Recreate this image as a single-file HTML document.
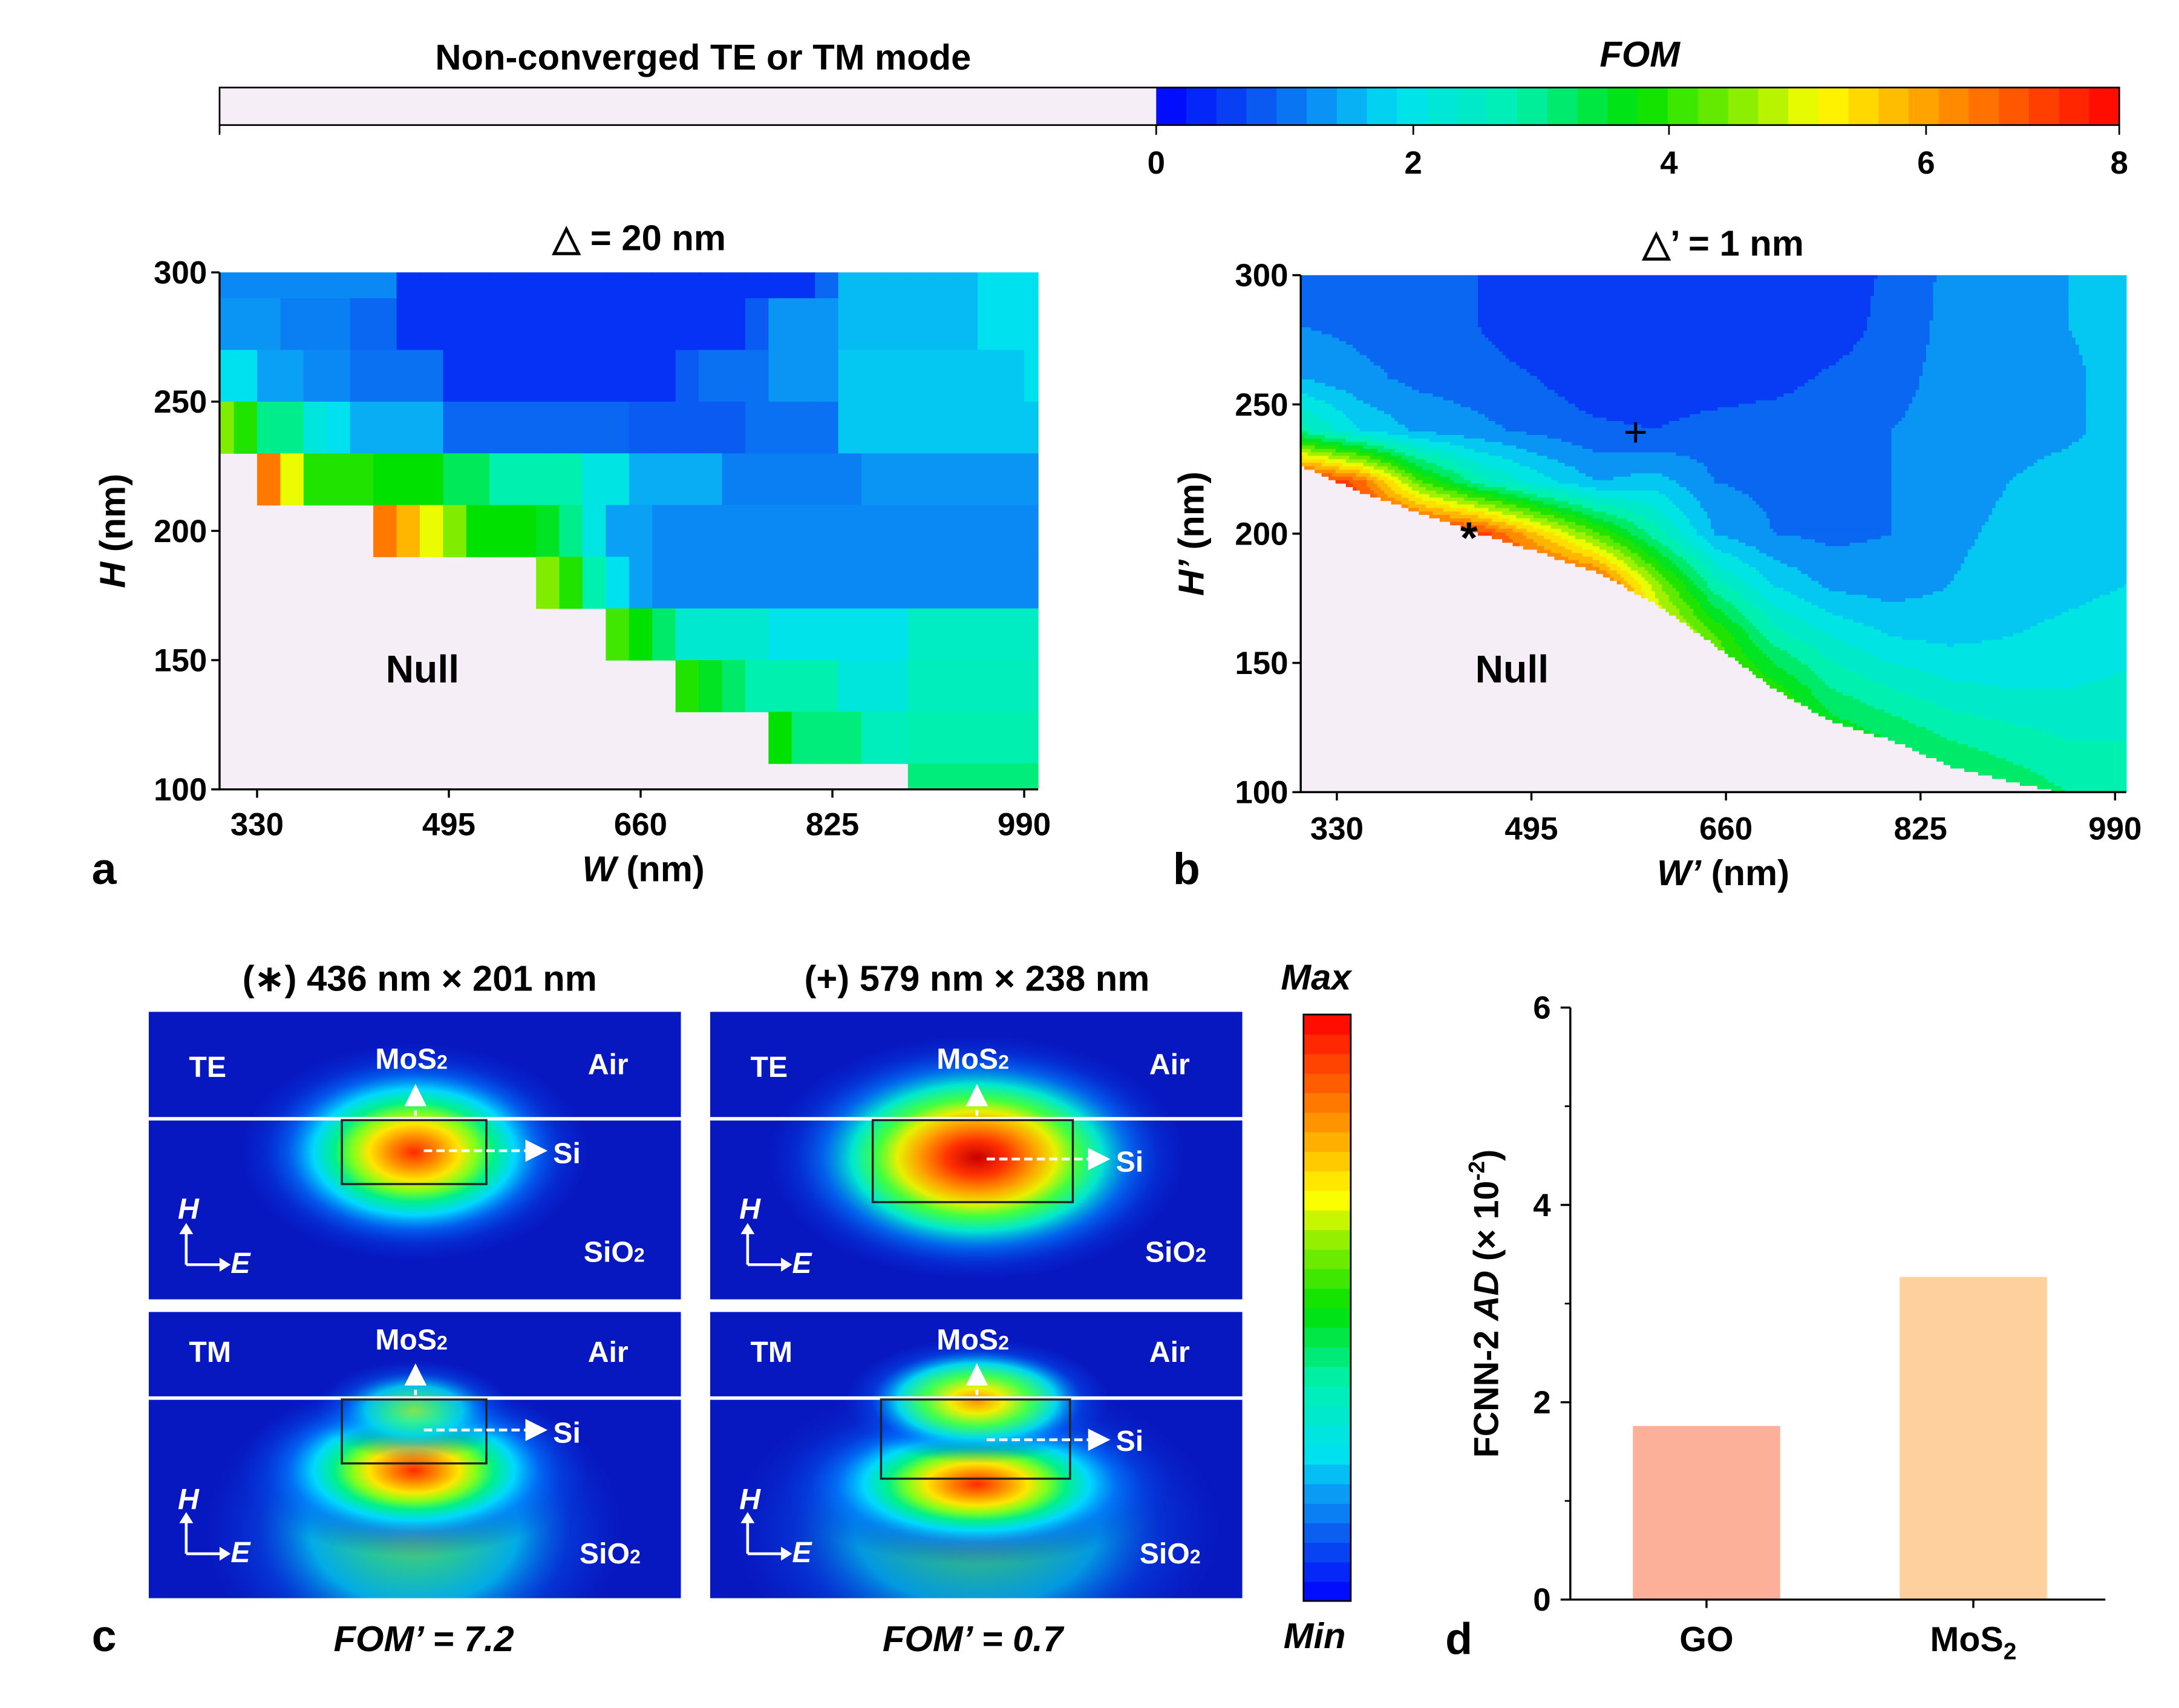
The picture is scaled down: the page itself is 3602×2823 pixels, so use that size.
<!DOCTYPE html>
<html><head><meta charset="utf-8">
<style>
html,body{margin:0;padding:0;background:#fff;}
svg{display:block;font-family:"Liberation Sans",Arial,sans-serif;font-weight:bold;}
</style></head>
<body>
<svg id="fig" width="3602" height="2823" viewBox="0 0 1568 1229" preserveAspectRatio="none" xmlns="http://www.w3.org/2000/svg">
<defs>
<radialGradient id="gStrong"><stop offset="0" stop-color="#ff2a00"/><stop offset="0.14" stop-color="#ff8a00"/><stop offset="0.26" stop-color="#ffe600"/><stop offset="0.36" stop-color="#7dff1e"/><stop offset="0.46" stop-color="#00f08a"/><stop offset="0.58" stop-color="#00d8ff"/><stop offset="0.72" stop-color="#0078ff" stop-opacity="0.7"/><stop offset="0.86" stop-color="#0050f0" stop-opacity="0.3"/><stop offset="1" stop-color="#0040f0" stop-opacity="0"/></radialGradient>
<radialGradient id="gDeep"><stop offset="0" stop-color="#c80000"/><stop offset="0.14" stop-color="#ff3000"/><stop offset="0.28" stop-color="#ffa000"/><stop offset="0.38" stop-color="#e8f000"/><stop offset="0.48" stop-color="#40ff40"/><stop offset="0.6" stop-color="#00e8d0"/><stop offset="0.74" stop-color="#0080ff" stop-opacity="0.7"/><stop offset="0.88" stop-color="#0050f0" stop-opacity="0.3"/><stop offset="1" stop-color="#0040f0" stop-opacity="0"/></radialGradient>
<radialGradient id="gWeak"><stop offset="0" stop-color="#90f040"/><stop offset="0.25" stop-color="#30f090"/><stop offset="0.5" stop-color="#00d0f0"/><stop offset="0.75" stop-color="#0070ff" stop-opacity="0.4"/><stop offset="1" stop-color="#0050f0" stop-opacity="0"/></radialGradient>
<radialGradient id="gMid"><stop offset="0" stop-color="#ff9000"/><stop offset="0.2" stop-color="#f0f000"/><stop offset="0.4" stop-color="#40ff50"/><stop offset="0.6" stop-color="#00d8f0"/><stop offset="0.8" stop-color="#0060ff" stop-opacity="0.4"/><stop offset="1" stop-color="#0050f0" stop-opacity="0"/></radialGradient>
<marker id="arr" markerWidth="8" markerHeight="8" refX="6" refY="4" orient="auto"><path d="M0,0 L8,4 L0,8 Z" fill="#fff"/></marker>
<clipPath id="cTE1"><rect x="107" y="728" width="383" height="207"/></clipPath>
<clipPath id="cTE2"><rect x="511" y="728" width="383" height="207"/></clipPath>
<clipPath id="cTM1"><rect x="107" y="944" width="383" height="206"/></clipPath>
<clipPath id="cTM2"><rect x="511" y="944" width="383" height="206"/></clipPath>
</defs>

<g id="topbar">
<rect x="158" y="63" width="674" height="27" fill="#f6eef6"/>
</g>
<text x="506" y="50" font-size="26" text-anchor="middle">Non-converged TE or TM mode</text>
<text x="1180" y="48" font-size="26" font-style="italic" text-anchor="middle">FOM</text>

<g id="panelA"></g>
<text x="460" y="180" font-size="26" text-anchor="middle">△ = 20 nm</text>
<text x="304" y="491" font-size="28" text-anchor="middle">Null</text>
<text transform="translate(90,382) rotate(-90)" font-size="26" text-anchor="middle"><tspan font-style="italic">H</tspan> (nm)</text>
<text x="463" y="634" font-size="26" text-anchor="middle"><tspan font-style="italic">W</tspan> (nm)</text>
<text x="66" y="636" font-size="32">a</text>

<g id="panelB"></g>
<text x="1240" y="184" font-size="26" text-anchor="middle">△’ = 1 nm</text>
<text x="1088" y="491" font-size="28" text-anchor="middle">Null</text>
<text x="1057" y="398" font-size="32" text-anchor="middle">*</text>
<text x="1177" y="321" font-size="30" text-anchor="middle" font-weight="normal">+</text>
<text transform="translate(866,384) rotate(-90)" font-size="26" text-anchor="middle"><tspan font-style="italic">H’</tspan> (nm)</text>
<text x="1240" y="637" font-size="26" text-anchor="middle"><tspan font-style="italic">W’</tspan> (nm)</text>
<text x="844" y="636" font-size="32">b</text>

<g>
<text x="302" y="713" font-size="26" text-anchor="middle">(∗) 436 nm × 201 nm</text>
<text x="703" y="713" font-size="26" text-anchor="middle">(+) 579 nm × 238 nm</text>

<g clip-path="url(#cTE1)">
<rect x="107" y="728" width="383" height="207" fill="#0818c0"/>
<ellipse cx="298" cy="829" rx="125" ry="78" fill="url(#gStrong)"/>
<line x1="107" y1="805" x2="490" y2="805" stroke="#fff" stroke-width="2.5"/>
<rect x="246" y="806" width="104" height="46" fill="none" stroke="#222" stroke-width="1.5"/>
</g>
<g clip-path="url(#cTE2)">
<rect x="511" y="728" width="383" height="207" fill="#0818c0"/>
<ellipse cx="703" cy="833" rx="150" ry="88" fill="url(#gDeep)"/>
<line x1="511" y1="805" x2="894" y2="805" stroke="#fff" stroke-width="2.5"/>
<rect x="628" y="806" width="144" height="59" fill="none" stroke="#222" stroke-width="1.5"/>
</g>
<g clip-path="url(#cTM1)">
<rect x="107" y="944" width="383" height="206" fill="#0818c0"/>
<ellipse cx="298" cy="1100" rx="150" ry="110" fill="url(#gWeak)" opacity="0.8"/>
<ellipse cx="298" cy="1058" rx="125" ry="62" fill="url(#gStrong)"/>
<ellipse cx="298" cy="1015" rx="70" ry="36" fill="url(#gWeak)" opacity="0.9"/>
<line x1="107" y1="1006" x2="490" y2="1006" stroke="#fff" stroke-width="2.5"/>
<rect x="246" y="1007" width="104" height="46" fill="none" stroke="#222" stroke-width="1.5"/>
</g>
<g clip-path="url(#cTM2)">
<rect x="511" y="944" width="383" height="206" fill="#0818c0"/>
<ellipse cx="703" cy="1100" rx="175" ry="110" fill="url(#gWeak)" opacity="0.7"/>
<ellipse cx="703" cy="1068" rx="140" ry="58" fill="url(#gStrong)"/>
<ellipse cx="703" cy="1008" rx="95" ry="45" fill="url(#gMid)"/>
<line x1="511" y1="1006" x2="894" y2="1006" stroke="#fff" stroke-width="2.5"/>
<rect x="634" y="1007" width="136" height="57" fill="none" stroke="#222" stroke-width="1.5"/>
</g>

<g fill="#fff" font-size="21">
<text x="136" y="775">TE</text><text x="270" y="769">MoS<tspan font-size="14">2</tspan></text><text x="423" y="773">Air</text>
<text x="398" y="837">Si</text><text x="420" y="908">SiO<tspan font-size="14">2</tspan></text>
<text x="540" y="775">TE</text><text x="674" y="769">MoS<tspan font-size="14">2</tspan></text><text x="827" y="773">Air</text>
<text x="803" y="843">Si</text><text x="824" y="908">SiO<tspan font-size="14">2</tspan></text>
<text x="136" y="980">TM</text><text x="270" y="971">MoS<tspan font-size="14">2</tspan></text><text x="423" y="980">Air</text>
<text x="398" y="1038">Si</text><text x="417" y="1125">SiO<tspan font-size="14">2</tspan></text>
<text x="540" y="980">TM</text><text x="674" y="971">MoS<tspan font-size="14">2</tspan></text><text x="827" y="980">Air</text>
<text x="803" y="1044">Si</text><text x="820" y="1125">SiO<tspan font-size="14">2</tspan></text>
<g font-style="italic" font-size="21">
<text x="128" y="877">H</text><text x="166" y="916">E</text>
<text x="532" y="877">H</text><text x="570" y="916">E</text>
<text x="128" y="1086">H</text><text x="166" y="1124">E</text>
<text x="532" y="1086">H</text><text x="570" y="1124">E</text>
</g>
</g>
<g stroke="#fff" stroke-width="2" fill="none">
<line x1="299" y1="803" x2="299" y2="784" stroke-dasharray="4,3" marker-end="url(#arr)"/>
<line x1="305" y1="828" x2="390" y2="828" stroke-dasharray="6,3" marker-end="url(#arr)"/>
<line x1="703" y1="803" x2="703" y2="784" stroke-dasharray="4,3" marker-end="url(#arr)"/>
<line x1="710" y1="834" x2="795" y2="834" stroke-dasharray="6,3" marker-end="url(#arr)"/>
<line x1="299" y1="1004" x2="299" y2="985" stroke-dasharray="4,3" marker-end="url(#arr)"/>
<line x1="305" y1="1029" x2="390" y2="1029" stroke-dasharray="6,3" marker-end="url(#arr)"/>
<line x1="703" y1="1004" x2="703" y2="985" stroke-dasharray="4,3" marker-end="url(#arr)"/>
<line x1="710" y1="1036" x2="795" y2="1036" stroke-dasharray="6,3" marker-end="url(#arr)"/>
<path d="M134,910 L134,885 M134,910 L160,910"/><path d="M538,910 L538,885 M538,910 L564,910"/>
<path d="M134,1118 L134,1093 M134,1118 L160,1118"/><path d="M538,1118 L538,1093 M538,1118 L564,1118"/>
</g>
<g fill="#fff"><path d="M129,888 L134,880 L139,888Z"/><path d="M533,888 L538,880 L543,888Z"/><path d="M129,1096 L134,1088 L139,1096Z"/><path d="M533,1096 L538,1088 L543,1096Z"/>
<path d="M158,905 L166,910 L158,915Z"/><path d="M562,905 L570,910 L562,915Z"/><path d="M158,1113 L166,1118 L158,1123Z"/><path d="M562,1113 L570,1118 L562,1123Z"/></g>

<text x="305" y="1188" font-size="26" text-anchor="middle" font-style="italic">FOM’ = 7.2</text>
<text x="700" y="1188" font-size="26" text-anchor="middle" font-style="italic">FOM’ = 0.7</text>
<text x="66" y="1188" font-size="32">c</text>
<g id="fieldbar"></g>
<text x="947" y="712" font-size="26" text-anchor="middle" font-style="italic">Max</text>
<text x="946" y="1186" font-size="26" text-anchor="middle" font-style="italic">Min</text>
</g>

<g id="panelD"></g>
<text transform="translate(1078,938) rotate(-90)" font-size="25" text-anchor="middle">FCNN-2 <tspan font-style="italic">AD</tspan> (× 10<tspan font-size="16" dy="-10">-2</tspan><tspan dy="10">)</tspan></text>
<text x="1040" y="1190" font-size="32">d</text>
</svg>

<script>
// ---------- data ----------
const fomTicks = [0, 2, 4, 6, 8];
const fomTickX = [832, 1017, 1201, 1386, 1525];
const aWidths = [300,320,340,360,380,400,420,440,460,480,500,520,540,560,580,600,620,640,660,680,700,720,740,760,780,800,820,840,860,880,900,920,940,960,980,1000];
const aHeights = [300,280,260,240,220,200,180,160,140,120,100];
const aRow300 = [1.3,1.3,1.3,1.3,1.3,1.3,1.3,1.3,0.5,0.5,0.5,0.5,0.5,0.5,0.5,0.5,0.5,0.5,0.5,0.5,0.5,0.5,0.5,0.5,0.5,0.5,1.0,1.7,1.7,1.7,1.7,1.7,1.7,2.0,2.0,2.0];
const aRow280 = [1.4,1.4,1.4,1.2,1.2,1.2,1.0,1.0,0.5,0.5,0.5,0.5,0.5,0.5,0.5,0.5,0.5,0.5,0.5,0.5,0.5,0.5,0.5,0.9,1.4,1.4,1.4,1.7,1.7,1.7,1.7,1.7,1.7,2.0,2.0,2.0];
const aRow260 = [2.0,2.0,1.5,1.5,1.3,1.3,1.1,1.1,1.1,1.1,0.5,0.5,0.5,0.5,0.5,0.5,0.5,0.5,0.5,0.5,0.9,1.1,1.1,1.1,1.4,1.4,1.4,1.8,1.8,1.8,1.8,1.8,1.8,1.8,1.8,2.0];
const aRow240 = [4.8,4.2,3.2,3.2,2.3,2.0,1.6,1.6,1.6,1.6,1.0,1.0,1.0,1.0,1.0,1.0,1.0,1.0,0.9,0.9,0.9,0.9,0.9,1.1,1.1,1.1,1.1,1.8,1.8,1.8,1.8,1.8,1.8,1.8,1.8,1.8];
const aRow220 = [-1,-1,6.8,5.4,4.2,4.2,4.2,4.0,4.0,4.0,3.5,3.5,3.0,3.0,3.0,3.0,2.2,2.2,1.6,1.6,1.6,1.6,1.2,1.2,1.2,1.2,1.2,1.2,1.4,1.4,1.4,1.4,1.4,1.4,1.4,1.4];
const aRow200 = [-1,-1,-1,-1,-1,-1,-1,6.8,6.2,5.4,4.8,4.0,4.0,4.0,3.8,3.2,2.2,1.5,1.5,1.3,1.3,1.3,1.3,1.3,1.3,1.3,1.3,1.3,1.3,1.3,1.3,1.3,1.3,1.3,1.3,1.3];
const aRow180 = [-1,-1,-1,-1,-1,-1,-1,-1,-1,-1,-1,-1,-1,-1,4.8,4.2,3.0,2.0,1.5,1.3,1.3,1.3,1.3,1.3,1.3,1.3,1.3,1.3,1.3,1.3,1.3,1.3,1.3,1.3,1.3,1.3];
const aRow160 = [-1,-1,-1,-1,-1,-1,-1,-1,-1,-1,-1,-1,-1,-1,-1,-1,-1,4.4,4.0,3.4,2.5,2.5,2.5,2.5,2.1,2.1,2.1,2.1,2.1,2.1,2.7,2.7,2.7,2.7,2.7,2.7];
const aRow140 = [-1,-1,-1,-1,-1,-1,-1,-1,-1,-1,-1,-1,-1,-1,-1,-1,-1,-1,-1,-1,4.2,3.8,3.4,3.0,3.0,3.0,3.0,2.3,2.3,2.3,2.8,2.8,2.8,2.8,2.8,2.8];
const aRow120 = [-1,-1,-1,-1,-1,-1,-1,-1,-1,-1,-1,-1,-1,-1,-1,-1,-1,-1,-1,-1,-1,-1,-1,-1,4.0,3.3,3.3,3.3,2.8,2.8,3.0,3.0,3.0,3.0,3.0,3.0];
const aRow100 = [-1,-1,-1,-1,-1,-1,-1,-1,-1,-1,-1,-1,-1,-1,-1,-1,-1,-1,-1,-1,-1,-1,-1,-1,-1,-1,-1,-1,-1,-1,3.3,3.3,3.3,3.3,3.3,3.3];
const aRows = [aRow300,aRow280,aRow260,aRow240,aRow220,aRow200,aRow180,aRow160,aRow140,aRow120,aRow100];
const wTicks = [330, 495, 660, 825, 990];
const hTicks = [100, 150, 200, 250, 300];

const bWidths = [300,350,400,450,500,550,600,650,700,750,800,850,900,950,1000];
const bHeights = [300,280,260,240,220,200,180,160,140,120,100];
const bRow300 = [1.1,1.1,1.0,0.8,0.5,0.5,0.5,0.5,0.5,0.5,0.9,1.3,1.4,1.6,1.8];
const bRow280 = [1.2,1.1,1.0,0.8,0.5,0.5,0.5,0.5,0.5,0.5,1.0,1.3,1.4,1.6,1.8];
const bRow260 = [1.6,1.3,1.1,1.0,0.8,0.5,0.5,0.5,0.6,0.9,1.1,1.3,1.4,1.5,1.8];
const bRow240 = [3.0,2.0,1.5,1.3,1.1,0.9,0.8,1.0,1.1,1.1,1.2,1.3,1.4,1.5,1.8];
const bRow220 = [8,7,4.5,3.0,2.2,1.6,1.8,1.2,1.1,1.1,1.2,1.4,1.6,1.8,1.9];
const bRow200 = [8,8,8,7.5,6,4.5,3.0,1.6,1.2,1.1,1.2,1.5,1.7,1.8,1.9];
const bRow180 = [8,8,8,8,8,7.5,5.0,3.0,2.0,1.5,1.4,1.6,1.8,1.9,2.0];
const bRow160 = [8,8,8,8,8,8,6,4.5,3.0,2.4,2.0,1.9,2.0,2.1,2.2];
const bRow140 = [8,8,8,8,8,8,6,5,4.2,3.2,2.8,2.5,2.4,2.4,2.5];
const bRow120 = [8,8,8,8,8,8,6,5,5,4.0,3.6,3.2,3.0,2.8,2.8];
const bRow100 = [8,8,8,8,8,8,6,5,5,4.5,4.0,3.8,3.5,3.2,3.0];
const bRows = [bRow300,bRow280,bRow260,bRow240,bRow220,bRow200,bRow180,bRow160,bRow140,bRow120,bRow100];
const bBoundary = [226,216,208,200,193,185,173,157,140,127,120,110,104,99,95];

const barCategories = ['GO', 'MoS2'];
const barValues = [1.76, 3.27];
const barColors = ['#fcb09a', '#fdd09e'];
const dTicks = [0, 2, 4, 6];

// ---------- helpers ----------
const NS = 'http://www.w3.org/2000/svg';
function mk(tag, attrs, parent){ const e=document.createElementNS(NS,tag); for(const k in attrs) e.setAttribute(k,attrs[k]); parent.appendChild(e); return e; }
const stops = [[0,[0,0,255]],[0.8,[10,80,240]],[1.5,[10,160,245]],[2.0,[0,225,240]],[3.0,[0,240,175]],[4.0,[0,225,0]],[5.0,[160,240,0]],[5.5,[255,255,0]],[6.5,[255,150,0]],[8.0,[255,0,0]]];
function cmap(v){ v=Math.max(0,Math.min(8,v)); for(let i=1;i<stops.length;i++){ if(v<=stops[i][0]){ const a=stops[i-1],b=stops[i],t=(v-a[0])/(b[0]-a[0]); const c=a[1].map((x,j)=>Math.round(x+(b[1][j]-x)*t)); return 'rgb('+c.join(',')+')'; } } return 'rgb(255,0,0)'; }
const PINK = '#f6eef6';

// ---------- top colorbar ----------
const tb = document.getElementById('topbar');
const nSteps = 32;
for(let i=0;i<nSteps;i++){
  const x0 = fomTickX[0] + i*(fomTickX[4]-fomTickX[0])/nSteps;
  const r = mk('rect',{x:x0,y:63,width:(fomTickX[4]-fomTickX[0])/nSteps+0.4,height:27,fill:cmap((i+0.5)*8/nSteps)},tb);
  
  
}
mk('rect',{x:158,y:63,width:1367,height:27,fill:'none',stroke:'#000','stroke-width':1.2},tb);
mk('line',{x1:158,y1:90,x2:158,y2:97,stroke:'#000','stroke-width':1.2},tb);
fomTicks.forEach((t,i)=>{
  mk('line',{x1:fomTickX[i],y1:90,x2:fomTickX[i],y2:97,stroke:'#000','stroke-width':1.2},tb);
  const tx = mk('text',{x:fomTickX[i],y:125,'font-size':23,'text-anchor':'middle'},tb);
  tx.textContent = t;
  
  
});

// ---------- panel a ----------
const pa = document.getElementById('panelA');
const aX0=158,aX1=747,aY0=196,aY1=568;
const axW = w => 185 + (w-330)*138/165;
const axH = h => 568 - (h-100)*372/200;
mk('rect',{x:aX0,y:aY0,width:aX1-aX0,height:aY1-aY0,fill:PINK},pa);
aRows.forEach((row,j)=>{
  const h=aHeights[j];
  row.forEach((v,k)=>{
    if(v<0) return;
    const w=aWidths[k];
    let x0=Math.max(aX0,axW(w-10)), x1=Math.min(aX1,axW(w+10));
    let y0=Math.max(aY0,axH(h+10)), y1=Math.min(aY1,axH(h-10));
    const c = mk('rect',{x:x0,y:y0,width:x1-x0+0.3,height:y1-y0+0.3,fill:cmap(v)},pa);
    
    
  });
});
mk('path',{d:`M${aX0},${aY0} L${aX0},${aY1} L${aX1},${aY1}`,fill:'none',stroke:'#000','stroke-width':1.5},pa);
hTicks.forEach(t=>{
  const y=axH(t);
  mk('line',{x1:aX0-6,y1:y,x2:aX0,y2:y,stroke:'#000','stroke-width':1.5},pa);
  const tx=mk('text',{x:aX0-9,y:y+8,'font-size':23,'text-anchor':'end'},pa); tx.textContent=t;
  
  
});
wTicks.forEach(t=>{
  const x=axW(t);
  mk('line',{x1:x,y1:aY1,x2:x,y2:aY1+6,stroke:'#000','stroke-width':1.5},pa);
  const tx=mk('text',{x:x,y:601,'font-size':23,'text-anchor':'middle'},pa); tx.textContent=t;
  
  
});

// ---------- panel b ----------
const pb = document.getElementById('panelB');
const bX0=936,bX1=1530,bY0=198,bY1=570;
const bxW = w => 962 + (w-330)*140/165;
const byH = h => 570 - (h-100)*93/50;
const invW = x => 330 + (x-962)*165/140;
const invH = y => 100 + (570-y)*50/93;
function bval(w,h){
  let fi=(w-bWidths[0])/(bWidths[1]-bWidths[0]); fi=Math.max(0,Math.min(bWidths.length-1.0001,fi));
  let fj=(bHeights[0]-h)/(bHeights[0]-bHeights[1]); fj=Math.max(0,Math.min(bHeights.length-1.0001,fj));
  const i=Math.floor(fi),j=Math.floor(fj),tx=fi-i,ty=fj-j;
  const a=bRows[j][i],b=bRows[j][i+1],c=bRows[j+1][i],d=bRows[j+1][i+1];
  return (a*(1-tx)+b*tx)*(1-ty)+(c*(1-tx)+d*tx)*ty;
}
function bound(w){
  let fi=(w-bWidths[0])/(bWidths[1]-bWidths[0]); fi=Math.max(0,Math.min(bWidths.length-1.0001,fi));
  const i=Math.floor(fi),t=fi-i; return bBoundary[i]*(1-t)+bBoundary[i+1]*t;
}
const STEP=2.5;
function colAt(x,h){
  const w=invW(x+STEP/2);
  if(h<bound(w)) return PINK;
  const v=bval(w,h); const q=Math.min(7.8,Math.floor(v/0.4)*0.4+0.2); return cmap(q);
}
for(let y=bY0;y<bY1;y+=STEP){
  const h=invH(y+STEP/2);
  let runStart=bX0, runCol=colAt(bX0,h);
  for(let x=bX0+STEP;;x+=STEP){
    const done = x>=bX1;
    const col = done ? null : colAt(x,h);
    if(done || col!==runCol){
      const xe=Math.min(x,bX1);
      const r=mk('rect',{x:runStart,y:y,width:xe-runStart+0.3,height:Math.min(STEP,bY1-y)+0.3,fill:runCol},pb);
      
      
      if(done) break;
      runStart=x; runCol=col;
    }
  }
}
mk('path',{d:`M${bX0},${bY0} L${bX0},${bY1} L${bX1},${bY1}`,fill:'none',stroke:'#000','stroke-width':1.5},pb);
hTicks.forEach(t=>{
  const y=byH(t);
  mk('line',{x1:bX0-6,y1:y,x2:bX0,y2:y,stroke:'#000','stroke-width':1.5},pb);
  const tx=mk('text',{x:bX0-9,y:y+8,'font-size':23,'text-anchor':'end'},pb); tx.textContent=t;
  
  
});
wTicks.forEach(t=>{
  const x=bxW(t);
  mk('line',{x1:x,y1:bY1,x2:x,y2:bY1+6,stroke:'#000','stroke-width':1.5},pb);
  const tx=mk('text',{x:x,y:604,'font-size':23,'text-anchor':'middle'},pb); tx.textContent=t;
  
  
});

// ---------- field colorbar ----------
const fb=document.getElementById('fieldbar');
const fN=30, fy0=730, fy1=1152;
for(let i=0;i<fN;i++){
  const y=fy1-(i+1)*(fy1-fy0)/fN;
  const r=mk('rect',{x:938,y:y,width:34,height:(fy1-fy0)/fN+0.4,fill:cmap((i+0.5)*8/fN)},fb);
  
  
}
mk('rect',{x:938,y:fy0,width:34,height:fy1-fy0,fill:'none',stroke:'#000','stroke-width':1.2},fb);

// ---------- panel d ----------
const pd=document.getElementById('panelD');
const dX0=1130,dX1=1515,dY0=725,dY1=1151;
const dy = v => dY1 - v*(dY1-dY0)/6;
const barCenters = [1228, 1420];
barValues.forEach((v,i)=>{
  const r=mk('rect',{x:barCenters[i]-53,y:dy(v),width:106,height:dY1-dy(v),fill:barColors[i]},pd);
  
  
});
mk('path',{d:`M${dX0},${dY0} L${dX0},${dY1} L${dX1},${dY1}`,fill:'none',stroke:'#000','stroke-width':1.5},pd);
dTicks.forEach(t=>{
  const y=dy(t);
  mk('line',{x1:dX0-7,y1:y,x2:dX0,y2:y,stroke:'#000','stroke-width':1.5},pd);
  const tx=mk('text',{x:dX0-14,y:y+8,'font-size':23,'text-anchor':'end'},pd); tx.textContent=t;
  
  
});
[1,3,5].forEach(t=>{ mk('line',{x1:dX0-4,y1:dy(t),x2:dX0,y2:dy(t),stroke:'#000','stroke-width':1.2},pd); });
barCategories.forEach((c,i)=>{
  mk('line',{x1:barCenters[i],y1:dY1,x2:barCenters[i],y2:dY1+6,stroke:'#000','stroke-width':1.5},pd);
  const tx=mk('text',{x:barCenters[i],y:1188,'font-size':25,'text-anchor':'middle'},pd);
  if(c==='MoS2'){ tx.textContent='MoS'; const s=mk('tspan',{'font-size':17,dy:6},tx); s.textContent='2'; }
  else tx.textContent=c;
  
  
});
</script>
</body></html>
